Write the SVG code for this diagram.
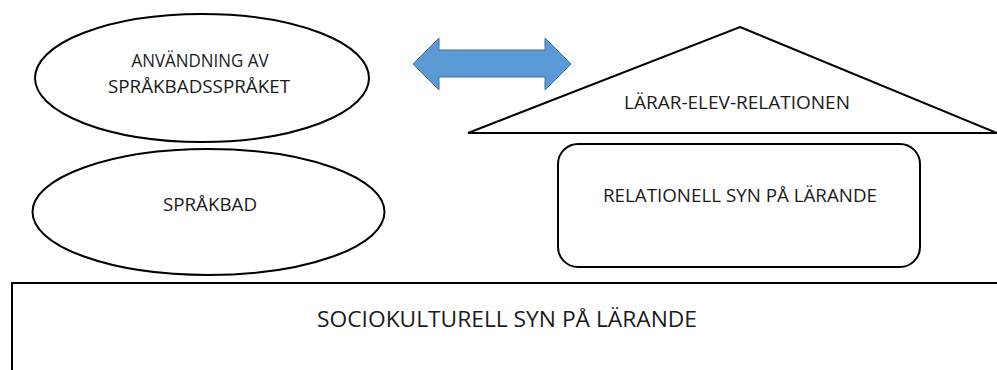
<svg xmlns="http://www.w3.org/2000/svg" width="997" height="370" viewBox="0 0 997 370">
<style>
.shape{fill:#ffffff;stroke:#000000;stroke-width:2}
.lbl{font-family:"Open Sans","Liberation Sans",sans-serif;font-size:17.5px;fill:#1a1a1a;text-anchor:middle}
.big{font-size:22px}
.arrow{fill:#5B9BD5;stroke:#41719C;stroke-width:1}
</style>
<rect width="997" height="370" fill="#ffffff"/>
<g id="sociokulturell">
<rect class="shape" x="12" y="283" width="1000" height="100"/>
<text class="lbl big" x="507" y="327" textLength="380" lengthAdjust="spacingAndGlyphs">SOCIOKULTURELL SYN PÅ LÄRANDE</text>
</g>
<g id="anvandning">
<ellipse class="shape" cx="202" cy="78" rx="167" ry="64"/>
<text class="lbl" x="200" y="67" textLength="137" lengthAdjust="spacingAndGlyphs">ANVÄNDNING AV</text>
<text class="lbl" x="199" y="93" textLength="182" lengthAdjust="spacingAndGlyphs">SPRÅKBADSSPRÅKET</text>
</g>
<g id="sprakbad">
<ellipse class="shape" cx="208.5" cy="212" rx="176" ry="63"/>
<text class="lbl" x="210" y="211" textLength="94" lengthAdjust="spacingAndGlyphs">SPRÅKBAD</text>
</g>
<g id="larar-elev">
<polygon class="shape" points="740,27 997,133 468,133"/>
<text class="lbl" x="737" y="109" textLength="226" lengthAdjust="spacingAndGlyphs">LÄRAR-ELEV-RELATIONEN</text>
</g>
<g id="relationell">
<rect class="shape" x="558" y="144" width="362" height="123" rx="20" ry="20"/>
<text class="lbl" x="740" y="202" textLength="274" lengthAdjust="spacingAndGlyphs">RELATIONELL SYN PÅ LÄRANDE</text>
</g>
<g id="connectors">
<polygon class="arrow" points="413,64 439,38 439,50 545,50 545,38 571,64 545,90 545,77 439,77 439,90"/>
</g>
</svg>
